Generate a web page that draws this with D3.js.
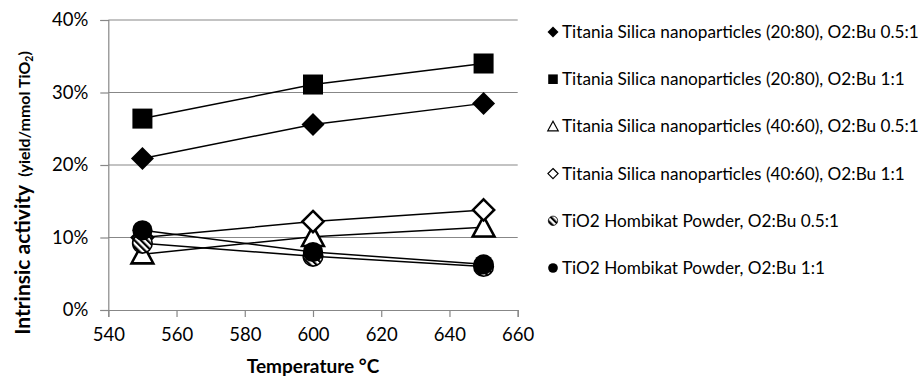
<!DOCTYPE html>
<html>
<head>
<meta charset="utf-8">
<script src="https://cdn.jsdelivr.net/npm/d3@7"></script>
<style>
  html, body { margin: 0; padding: 0; background: #fff; }
  svg { display: block; font-family: Lato, "Open Sans", sans-serif; }
</style>
</head>
<body>
<svg id="chart" width="921" height="378"></svg>
<script>
// Temperatures (°C) at which each catalyst was measured
const temperatures = [550, 600, 650];

// Series names, in legend order
const seriesNames = [
  "Titania Silica nanoparticles (20:80), O2:Bu 0.5:1",
  "Titania Silica nanoparticles (20:80), O2:Bu 1:1",
  "Titania Silica nanoparticles (40:60), O2:Bu 0.5:1",
  "Titania Silica nanoparticles (40:60), O2:Bu 1:1",
  "TiO2 Hombikat Powder, O2:Bu 0.5:1",
  "TiO2 Hombikat Powder, O2:Bu 1:1"
];

// Intrinsic activity (fraction, yield/mmol TiO2) per series
const ts2080_05 = [0.209, 0.256, 0.285];
const ts2080_11 = [0.264, 0.311, 0.340];
const ts4060_05 = [0.077, 0.101, 0.114];
const ts4060_11 = [0.100, 0.122, 0.138];
const hombi_05  = [0.092, 0.074, 0.060];
const hombi_11  = [0.110, 0.080, 0.063];

const seriesValues = [ts2080_05, ts2080_11, ts4060_05, ts4060_11, hombi_05, hombi_11];
const markerKinds = ["diamond", "square", "triangle", "openDiamond", "hatchCircle", "circle"];

// Axis ticks
const xTicks = [540, 560, 580, 600, 620, 640, 660];
const yTicks = [0, 0.1, 0.2, 0.3, 0.4];

const svg = d3.select("#chart");

const x = d3.scaleLinear().domain([540, 660]).range([108.3, 517.7]);
const y = d3.scaleLinear().domain([0, 0.4]).range([310, 20]);

// Hatch fill for the Hombikat 0.5:1 marker
const defs = svg.append("defs");
const pat = defs.append("pattern")
  .attr("id", "hatch")
  .attr("patternUnits", "userSpaceOnUse")
  .attr("width", 4.5).attr("height", 4.5)
  .attr("patternTransform", "rotate(-45)");
pat.append("rect").attr("width", 4.5).attr("height", 4.5).attr("fill", "#fff");
pat.append("rect").attr("width", 2.2).attr("height", 4.5).attr("fill", "#000");

const gridColor = "#878787";
const tickFont = 18.5;

// Horizontal gridlines
svg.append("g")
  .selectAll("line")
  .data(yTicks.filter(d => d > 0))
  .join("line")
  .attr("x1", x(540)).attr("x2", x(660))
  .attr("y1", d => y(d)).attr("y2", d => y(d))
  .attr("stroke", gridColor).attr("stroke-width", 1.2);

// Y axis
const yAxis = svg.append("g")
  .attr("transform", `translate(${x(540)},0)`)
  .call(d3.axisLeft(y).tickValues(yTicks).tickSize(8).tickPadding(12)
        .tickFormat(d => Math.round(d * 100) + "%"));
yAxis.select(".domain").attr("stroke", gridColor).attr("stroke-width", 1.2);
yAxis.selectAll(".tick line").attr("stroke", gridColor).attr("stroke-width", 1.2);
yAxis.selectAll("text").attr("font-size", tickFont).attr("fill", "#000")
  .attr("font-family", "Lato, sans-serif");

// X axis
const xAxis = svg.append("g")
  .attr("transform", `translate(0,${y(0)})`)
  .call(d3.axisBottom(x).tickValues(xTicks).tickSize(7).tickPadding(11)
        .tickFormat(d3.format("d")));
xAxis.select(".domain").attr("stroke", gridColor).attr("stroke-width", 1.2);
xAxis.selectAll(".tick line").attr("stroke", gridColor).attr("stroke-width", 1.2);
xAxis.selectAll("text").attr("font-size", tickFont).attr("fill", "#000")
  .attr("font-family", "Lato, sans-serif");

// Axis titles
svg.append("text")
  .attr("x", x(600)).attr("y", 373)
  .attr("text-anchor", "middle")
  .attr("font-size", 19).attr("font-weight", "bold")
  .text("Temperature °C");

const yTitle = svg.append("text")
  .attr("transform", "translate(30,193) rotate(-90)")
  .attr("text-anchor", "middle")
  .attr("font-weight", "bold");
yTitle.append("tspan").attr("font-size", 21).text("Intrinsic activity");
yTitle.append("tspan").attr("font-size", 16).attr("dx", 8).text("(yield/mmol TiO");
yTitle.append("tspan").attr("font-size", 10.5).attr("dy", 3).text("2");
yTitle.append("tspan").attr("font-size", 16).attr("dy", -3).text(")");

// Marker drawing
function drawMarker(g, kind, s) {
  const h = s / 2;
  switch (kind) {
    case "diamond":
      g.append("path").attr("d", `M0,${-h}L${h},0L0,${h}L${-h},0Z`).attr("fill", "#000");
      break;
    case "square":
      g.append("rect").attr("x", -h * 0.87).attr("y", -h * 0.87)
        .attr("width", s * 0.87).attr("height", s * 0.87).attr("fill", "#000");
      break;
    case "triangle": {
      const sw = s * 0.11;
      g.append("path")
        .attr("d", `M0,${-h * 0.95}L${h * 0.95},${h * 0.8}L${-h * 0.95},${h * 0.8}Z`)
        .attr("fill", "#fff").attr("stroke", "#000").attr("stroke-width", sw)
        .attr("stroke-linejoin", "miter");
      break;
    }
    case "openDiamond": {
      const sw = s * 0.11, r = h * 0.92;
      g.append("path").attr("d", `M0,${-r}L${r},0L0,${r}L${-r},0Z`)
        .attr("fill", "#fff").attr("stroke", "#000").attr("stroke-width", sw);
      break;
    }
    case "hatchCircle":
      g.append("circle").attr("r", h * 0.85).attr("fill", "url(#hatch)")
        .attr("stroke", "#000").attr("stroke-width", s * 0.07);
      break;
    case "circle":
      g.append("circle").attr("r", h * 0.88).attr("fill", "#000");
      break;
  }
}

const line = d3.line().x(d => x(d.t)).y(d => y(d.v));

seriesValues.forEach((vals, i) => {
  const pts = temperatures.map((t, j) => ({ t, v: vals[j] }));
  const g = svg.append("g").attr("class", "series");
  g.append("path").datum(pts).attr("d", line)
    .attr("fill", "none").attr("stroke", "#000").attr("stroke-width", 1.5);
  g.selectAll("g.marker").data(pts).join("g")
    .attr("class", "marker")
    .attr("transform", d => `translate(${x(d.t)},${y(d.v)})`)
    .each(function () { drawMarker(d3.select(this), markerKinds[i], 23); });
});

// Legend
const legend = svg.append("g");
seriesNames.forEach((name, i) => {
  const cy = 32 + i * 47.2;
  const item = legend.append("g").attr("transform", `translate(553,${cy})`);
  drawMarker(item, markerKinds[i], 11);
  item.append("text").attr("x", 9).attr("y", 6)
    .attr("font-size", 17.2).attr("fill", "#000").text(name);
});
</script>
</body>
</html>
